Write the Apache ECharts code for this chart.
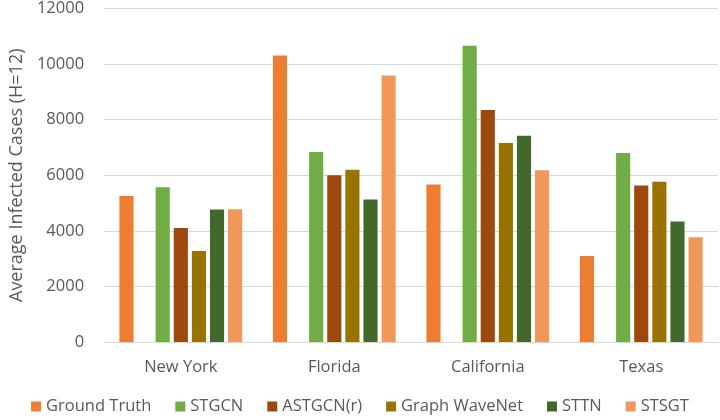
<!DOCTYPE html>
<html>
<head>
<meta charset="utf-8">
<script src="https://cdn.jsdelivr.net/npm/echarts@6/dist/echarts.min.js"></script>
<style>html,body{margin:0;padding:0;background:#fff}#c{width:720px;height:420px}</style>
</head>
<body>
<div id="c"></div>
<script>
const categories = ['New York', 'Florida', 'California', 'Texas'];
const groundTruth = [5250, 10310, 5670, 3090];
const stgcn = [5570, 6840, 10660, 6800];
const astgcn = [4100, 6000, 8350, 5630];
const graphWaveNet = [3270, 6200, 7160, 5770];
const sttn = [4770, 5130, 7420, 4340];
const stsgt = [4780, 9590, 6180, 3770];
const yTicks = [0, 2000, 4000, 6000, 8000, 10000, 12000];

const seriesDefs = [
  ['Ground Truth', groundTruth, '#ED7D31'],
  ['', [null, null, null, null], 'transparent'],
  ['STGCN', stgcn, '#70AD47'],
  ['ASTGCN(r)', astgcn, '#9E480E'],
  ['Graph WaveNet', graphWaveNet, '#997300'],
  ['STTN', sttn, '#43682B'],
  ['STSGT', stsgt, '#F1975A']
];

const chart = echarts.init(document.getElementById('c'));
const font = 'Open Sans';
chart.setOption({
  animation: false,
  textStyle: { fontFamily: font },
  grid: { left: 93, right: 2, top: 7, bottom: 78 },
  legend: {
    data: seriesDefs.filter(s => s[0]).map(s => s[0]),
    bottom: 0,
    left: 'center',
    itemWidth: 10,
    itemHeight: 10,
    itemGap: 24,
    icon: 'rect',
    textStyle: { fontFamily: font, fontSize: 16.5, color: '#595959' }
  },
  xAxis: {
    type: 'category',
    data: categories,
    axisLine: { lineStyle: { color: '#d9d9d9', width: 1 } },
    axisTick: { show: false },
    axisLabel: { fontFamily: font, fontSize: 16.5, color: '#595959', margin: 17 }
  },
  yAxis: {
    type: 'value',
    min: yTicks[0],
    max: yTicks[yTicks.length - 1],
    interval: 2000,
    name: 'Average Infected Cases (H=12)',
    nameLocation: 'middle',
    nameGap: 72,
    nameTextStyle: { fontFamily: font, fontSize: 18, color: '#595959' },
    axisLine: { show: false },
    axisTick: { show: false },
    splitLine: { lineStyle: { color: '#d9d9d9', width: 1 } },
    axisLabel: { fontFamily: font, fontSize: 16.5, color: '#595959', margin: 20, formatter: v => String(v) }
  },
  series: seriesDefs.map(s => ({
    name: s[0] || 'blank',
    type: 'bar',
    data: s[1],
    barGap: '28%',
    barCategoryGap: '20%',
    itemStyle: { color: s[2] },
    silent: true
  }))
});
</script>
</body>
</html>
